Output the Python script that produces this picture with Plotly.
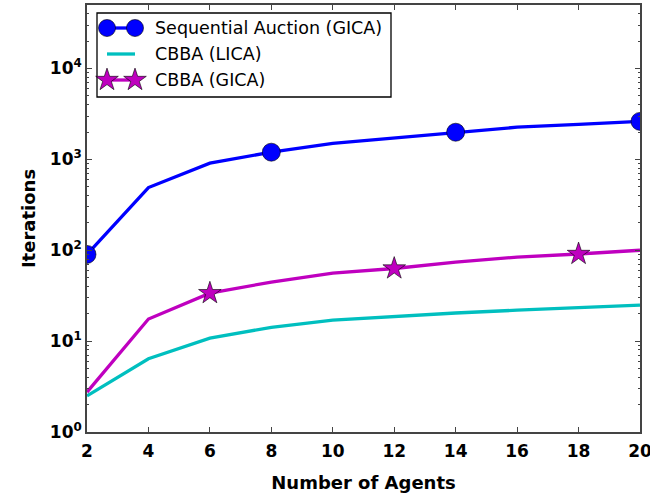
import plotly.graph_objects as go

# Number of agents on the x axis
agents = [2, 4, 6, 8, 10, 12, 14, 16, 18, 20]

# Iterations to convergence for each algorithm
seq_auction_gica = [90, 490, 910, 1200, 1500, 1720, 1990, 2260, 2430, 2620]
cbba_lica = [2.5, 6.4, 10.8, 14.2, 17.0, 18.8, 20.4, 21.9, 23.3, 24.9]
cbba_gica = [2.75, 17.5, 33.7, 44.7, 56, 63, 74, 84, 91, 100]

series_names = ["Sequential Auction (GICA)", "CBBA (LICA)", "CBBA (GICA)"]
y_tick_vals = [1, 10, 100, 1000, 10000]
y_tick_text = ["10<sup>0</sup>", "10<sup>1</sup>", "10<sup>2</sup>", "10<sup>3</sup>", "10<sup>4</sup>"]

BLUE = "#0000ff"
CYAN = "#00bfbf"
MAGENTA = "#bf00bf"
AXIS = "#444444"
FONT = "DejaVu Sans"

W, H = 650, 498
L, R, T, B = 87, 10, 5, 66

fig = go.Figure()

# Lines
fig.add_trace(go.Scatter(x=agents, y=seq_auction_gica, mode="lines",
                         line=dict(color=BLUE, width=3.3), showlegend=False))
fig.add_trace(go.Scatter(x=agents, y=cbba_lica, mode="lines",
                         line=dict(color=CYAN, width=3.3), showlegend=False))
fig.add_trace(go.Scatter(x=agents, y=cbba_gica, mode="lines",
                         line=dict(color=MAGENTA, width=3.3), showlegend=False))

# Markers on every third point
fig.add_trace(go.Scatter(x=agents[0::3], y=seq_auction_gica[0::3], mode="markers",
                         marker=dict(symbol="circle", size=18, color=BLUE,
                                     line=dict(color="#000000", width=0.6)),
                         showlegend=False))
fig.add_trace(go.Scatter(x=agents[2::3], y=cbba_gica[2::3], mode="markers",
                         marker=dict(symbol="star", size=17, color=MAGENTA,
                                     line=dict(color="#000000", width=0.6)),
                         showlegend=False))

# Legend box drawn in plot-fraction coordinates
pw, ph = W - L - R, H - T - B


def fx(px):
    return (px - L) / pw


def fy(py):
    return (H - B - py) / ph


legend_rows = [28, 54, 80]
sample_x0, sample_x1, text_x = 107, 135, 153

shapes = [dict(type="rect", xref="paper", yref="paper",
               x0=fx(97), x1=fx(391), y0=fy(97), y1=fy(13),
               line=dict(color="#000000", width=1.3), fillcolor="white", layer="below")]
for row, col in zip(legend_rows, [BLUE, CYAN, MAGENTA]):
    shapes.append(dict(type="line", xref="paper", yref="paper",
                       x0=fx(sample_x0), x1=fx(sample_x1), y0=fy(row), y1=fy(row),
                       line=dict(color=col, width=3.3), layer="below"))

annotations = []
for row, name in zip(legend_rows, series_names):
    annotations.append(dict(xref="paper", yref="paper", x=fx(text_x), y=fy(row),
                            text=name, showarrow=False, xanchor="left", yanchor="middle",
                            font=dict(family=FONT, size=17.5, color="#000000")))

fig.add_trace(go.Scatter(x=[fx(sample_x0), fx(sample_x1)], y=[fy(legend_rows[0])] * 2,
                         xaxis="x2", yaxis="y2", mode="markers",
                         marker=dict(symbol="circle", size=17, color=BLUE,
                                     line=dict(color="#000000", width=0.6)),
                         showlegend=False, cliponaxis=False))
fig.add_trace(go.Scatter(x=[fx(sample_x0), fx(sample_x1)], y=[fy(legend_rows[2])] * 2,
                         xaxis="x2", yaxis="y2", mode="markers",
                         marker=dict(symbol="star", size=17, color=MAGENTA,
                                     line=dict(color="#000000", width=0.6)),
                         showlegend=False, cliponaxis=False))

axis_common = dict(showline=True, linecolor=AXIS, linewidth=1.6, mirror="allticks",
                   ticks="inside", tickcolor=AXIS, tickwidth=1, ticklen=5,
                   showgrid=False, zeroline=False, ticklabeloverflow="allow",
                   automargin=False,
                   tickfont=dict(family=FONT, size=17, color="#000000", weight="bold"))

fig.update_layout(
    width=W, height=H,
    margin=dict(l=L, r=R, t=T, b=B),
    paper_bgcolor="white", plot_bgcolor="white",
    shapes=shapes, annotations=annotations,
    xaxis=dict(range=[2, 20], tickvals=agents, ticklabelstandoff=3, **axis_common,
               title=dict(text="Number of Agents", standoff=16,
                          font=dict(family=FONT, size=18, color="#000000", weight="bold"))),
    yaxis=dict(type="log", range=[0, 4.69897], tickvals=y_tick_vals, ticktext=y_tick_text,
               **axis_common,
               minor=dict(ticks="inside", ticklen=2.5, tickcolor=AXIS, tickwidth=1,
                          dtick="D1", showgrid=False),
               title=dict(text="Iterations", standoff=10,
                          font=dict(family=FONT, size=18, color="#000000", weight="bold"))),
    xaxis2=dict(overlaying="x", range=[0, 1], visible=False),
    yaxis2=dict(overlaying="y", range=[0, 1], visible=False),
)

fig.write_html("out.html")
